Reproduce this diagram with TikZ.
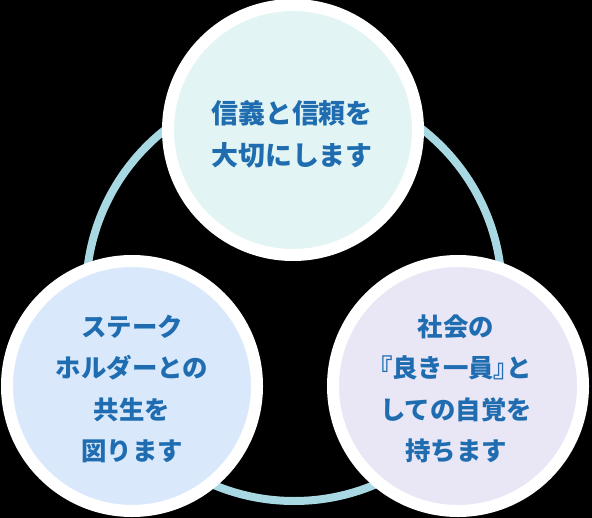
\documentclass[tikz,border=0pt]{standalone}
\usepackage{fontspec}
\newfontfamily\jpfont{Noto Sans CJK JP}
\usepackage{tikz}
\usetikzlibrary{positioning, backgrounds}
\usepackage{xcolor}

\definecolor{ringblue}{HTML}{A8D9E3}
\definecolor{trustfill}{HTML}{E2F4F3}
\definecolor{stakefill}{HTML}{D9E9FB}
\definecolor{societyfill}{HTML}{E9E6F5}
\definecolor{textblue}{HTML}{1F6DB0}

\newcommand{\halfbr}[1]{{\addfontfeature{RawFeature=+palt}#1}}

\tikzset{
  ring/.style={draw=ringblue, line width=8bp},
  pillar/.style={circle, draw=white, line width=12bp, minimum size=250bp,
    inner sep=0pt},
  caption/.style={align=center, text=textblue, inner sep=0pt,
    font=\jpfont\bfseries\fontsize{25.5}{41.5}\selectfont}
}

\begin{document}
\begin{tikzpicture}[x=1bp, y=-1bp]
  % canvas
  \fill[black] (0,0) rectangle (592,518);
  \useasboundingbox (0,0) rectangle (592,518);

  % ring behind the circles
  \coordinate (hub) at (294,293);
  \draw[ring] (hub) circle (208);

  % three circles
  \node[pillar, fill=trustfill] (trust) at (293,130) {};
  \node[pillar, fill=stakefill] (stake) at (132,386) {};
  \node[pillar, fill=societyfill] (society) at (458,386) {};

  % their texts
  \node[caption, font=\jpfont\bfseries\fontsize{27}{42}\selectfont]
    (trusttext) at ([xshift=-1bp, yshift=-4bp]trust.center) {信義と信頼を\\大切にします};
  \node[caption] (staketext) at ([yshift=-3bp]stake.center) {ステーク\\ホルダーとの\\共生を\\図ります};
  \node[caption] (societytext) at ([xshift=-2bp, yshift=-3bp]society.center)
    {社会の\\\halfbr{『}良き一員\halfbr{』}と\\しての自覚を\\持ちます};
\end{tikzpicture}
\end{document}
